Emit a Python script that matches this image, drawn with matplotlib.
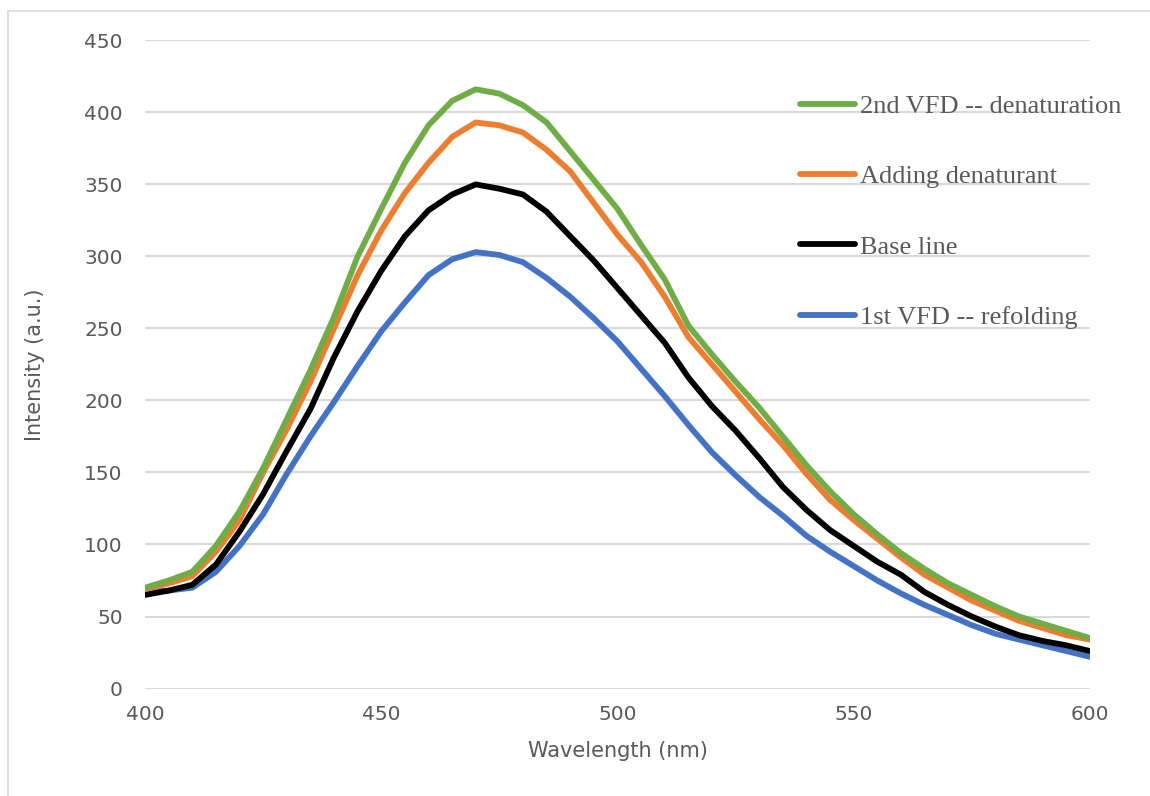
import numpy as np
import matplotlib.pyplot as plt
from matplotlib.patches import Rectangle

# Emission spectra, read every 5 nm
wavelength = np.arange(400, 601, 5)

denaturation_2nd = [70, 75, 81, 99, 123, 153, 187, 221, 258, 300, 333, 365, 391, 408,
                    416, 413, 405, 393, 373, 353, 333, 308, 284, 252, 232, 213, 195,
                    175, 155, 137, 121, 107, 94, 83, 73, 65, 57, 50, 45, 40, 35]
denaturant = [69, 73, 78, 95, 117, 150, 180, 213, 250, 287, 318, 344, 365, 383,
              393, 391, 386, 374, 359, 337, 315, 296, 272, 244, 225, 206, 187,
              169, 149, 131, 117, 104, 91, 79, 70, 61, 54, 47, 42, 37, 34]
base_line = [65, 68, 72, 86, 109, 135, 165, 194, 230, 262, 290, 314, 332, 343,
             350, 347, 343, 331, 314, 297, 278, 259, 240, 216, 196, 179, 160,
             140, 124, 110, 99, 88, 79, 67, 58, 50, 43, 37, 33, 30, 26]
refolding_1st = [67, 68, 70, 81, 99, 121, 149, 175, 199, 224, 248, 268, 287, 298,
                 303, 301, 296, 285, 272, 257, 241, 222, 203, 183, 164, 148, 133,
                 120, 106, 95, 85, 75, 66, 58, 51, 44, 38, 34, 30, 26, 22]

labels = ['2nd VFD -- denaturation', 'Adding denaturant', 'Base line', '1st VFD -- refolding']
colors = ['#70AD47', '#ED7D31', '#000000', '#4472C4']
series = [denaturation_2nd, denaturant, base_line, refolding_1st]

grey = '#595959'

fig = plt.figure(figsize=(11.5, 7.96), dpi=100)
fig.patches.append(Rectangle((8 / 1150, -0.1), 1.2, (796 - 11) / 796 + 0.1,
                             transform=fig.transFigure, fill=False,
                             edgecolor='#D9D9D9', linewidth=1.2))
ax = fig.add_axes([0.1261, 0.1350, 0.8217, 0.8143])

# draw blue first so the upper curves sit on top
for y, c, lab in reversed(list(zip(series, colors, labels))):
    ax.plot(wavelength, y, color=c, lw=4.2, label=lab,
            solid_joinstyle='round', solid_capstyle='round')

ax.set_xlim(400, 600)
ax.set_ylim(0, 450)
ax.set_xticks(np.arange(400, 601, 50))
ax.set_yticks(np.arange(0, 451, 50))
ax.grid(axis='y', color='#D9D9D9', lw=1.5)
ax.set_axisbelow(True)
for s in ax.spines.values():
    s.set_visible(False)
ax.tick_params(length=0, labelsize=14.5, labelcolor=grey)
ax.tick_params(axis='y', pad=16)
ax.tick_params(axis='x', pad=12)

ax.set_xlabel('Wavelength (nm)', fontsize=15, color=grey, labelpad=12)
ax.set_ylabel('Intensity (a.u.)', fontsize=15, color=grey, labelpad=28)

handles, labs = ax.get_legend_handles_labels()
leg = ax.legend(handles[::-1], labs[::-1], loc='upper left',
                bbox_to_anchor=(0.693, 0.916), frameon=False,
                prop={'family': 'Liberation Serif', 'size': 19},
                labelspacing=1.77, handlelength=2.08, handletextpad=0.19,
                borderpad=0, borderaxespad=0)
for t in leg.get_texts():
    t.set_color(grey)

fig.savefig('out.png', dpi=100)
